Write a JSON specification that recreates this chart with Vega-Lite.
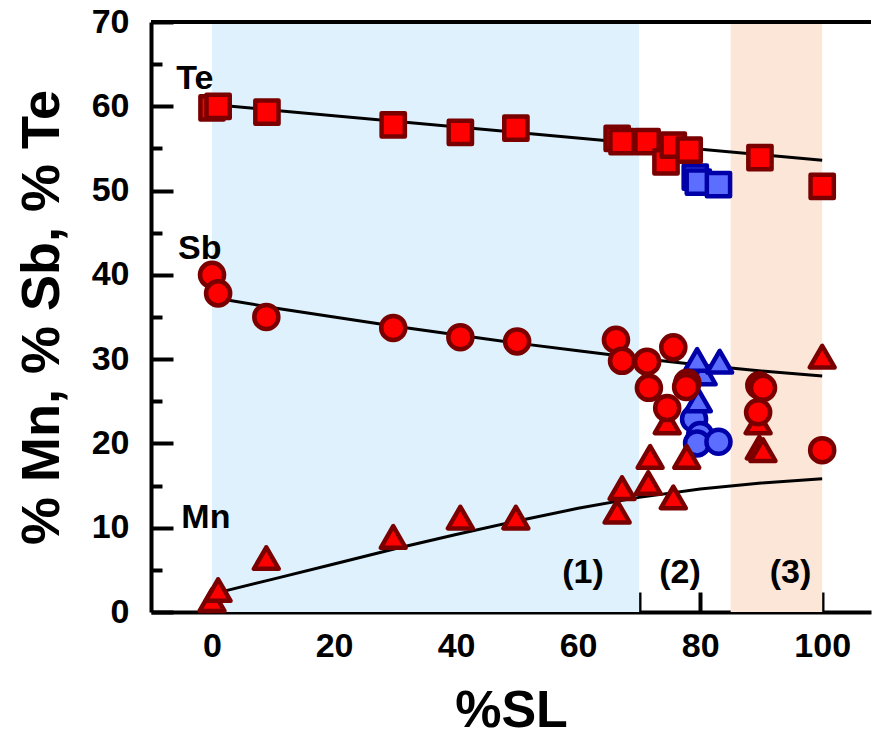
{
  "$schema": "https://vega.github.io/schema/vega-lite/v6.json",
  "width": 720,
  "height": 590,
  "padding": {"left": 15, "top": 5, "right": 0, "bottom": 0},
  "background": "white",
  "config": {"view": {"stroke": null}, "font": "Liberation Sans"},
  "datasets": {
    "bands": [
      {"x0": 0, "x1": 70, "zone": "blue"},
      {"x0": 85, "x1": 100, "zone": "orange"}
    ],
    "fits": [
      {"series": "Te", "x": 0, "y": 60.2}, {"series": "Te", "x": 50, "y": 56.9}, {"series": "Te", "x": 100, "y": 53.6},
      {"series": "Sb", "x": 1, "y": 37.2}, {"series": "Sb", "x": 10, "y": 36.1}, {"series": "Sb", "x": 20, "y": 35.0}, {"series": "Sb", "x": 30, "y": 33.9}, {"series": "Sb", "x": 40, "y": 32.9}, {"series": "Sb", "x": 50, "y": 31.9}, {"series": "Sb", "x": 60, "y": 31.0}, {"series": "Sb", "x": 70, "y": 30.1}, {"series": "Sb", "x": 80, "y": 29.3}, {"series": "Sb", "x": 90, "y": 28.6}, {"series": "Sb", "x": 100, "y": 28.0},
      {"series": "Mn", "x": 1, "y": 2.3}, {"series": "Mn", "x": 10, "y": 3.9}, {"series": "Mn", "x": 20, "y": 5.7}, {"series": "Mn", "x": 30, "y": 7.5}, {"series": "Mn", "x": 40, "y": 9.2}, {"series": "Mn", "x": 50, "y": 10.8}, {"series": "Mn", "x": 60, "y": 12.3}, {"series": "Mn", "x": 70, "y": 13.6}, {"series": "Mn", "x": 80, "y": 14.6}, {"series": "Mn", "x": 90, "y": 15.3}, {"series": "Mn", "x": 100, "y": 15.8}
    ],
    "points": [
      {"grp": "blue", "el": "Te", "x": 79.2, "y": 51.6}, {"grp": "blue", "el": "Te", "x": 79.7, "y": 51.0}, {"grp": "blue", "el": "Te", "x": 83, "y": 50.7},
      {"grp": "blue", "el": "Sb", "x": 79, "y": 22.9}, {"grp": "blue", "el": "Sb", "x": 80, "y": 21}, {"grp": "blue", "el": "Sb", "x": 79.5, "y": 20}, {"grp": "blue", "el": "Sb", "x": 83, "y": 20.2},
      {"grp": "blue", "el": "Mn", "x": 79.7, "y": 25.1}, {"grp": "blue", "el": "Mn", "x": 80.5, "y": 28.3}, {"grp": "blue", "el": "Mn", "x": 79.5, "y": 29.9}, {"grp": "blue", "el": "Mn", "x": 83.2, "y": 29.7},
      {"grp": "red", "el": "Mn", "x": 0, "y": 1.4}, {"grp": "red", "el": "Mn", "x": 1, "y": 2.6}, {"grp": "red", "el": "Mn", "x": 8.9, "y": 6.4}, {"grp": "red", "el": "Mn", "x": 29.7, "y": 8.9}, {"grp": "red", "el": "Mn", "x": 40.7, "y": 11.2}, {"grp": "red", "el": "Mn", "x": 49.8, "y": 11.2}, {"grp": "red", "el": "Mn", "x": 66.4, "y": 11.9}, {"grp": "red", "el": "Mn", "x": 67.2, "y": 14.7}, {"grp": "red", "el": "Mn", "x": 71.5, "y": 15.3}, {"grp": "red", "el": "Mn", "x": 71.8, "y": 18.4}, {"grp": "red", "el": "Mn", "x": 77.8, "y": 18.4}, {"grp": "red", "el": "Mn", "x": 75.6, "y": 13.6}, {"grp": "red", "el": "Mn", "x": 74.6, "y": 22.5}, {"grp": "red", "el": "Mn", "x": 89.5, "y": 22.5}, {"grp": "red", "el": "Mn", "x": 89.7, "y": 19.5}, {"grp": "red", "el": "Mn", "x": 90.3, "y": 19.2}, {"grp": "red", "el": "Mn", "x": 100, "y": 30.3},
      {"grp": "red", "el": "Sb", "x": 0, "y": 40}, {"grp": "red", "el": "Sb", "x": 1, "y": 37.8}, {"grp": "red", "el": "Sb", "x": 8.9, "y": 35.0}, {"grp": "red", "el": "Sb", "x": 29.7, "y": 33.7}, {"grp": "red", "el": "Sb", "x": 40.7, "y": 32.6}, {"grp": "red", "el": "Sb", "x": 50, "y": 32.1}, {"grp": "red", "el": "Sb", "x": 66.2, "y": 32.3}, {"grp": "red", "el": "Sb", "x": 67.2, "y": 29.8}, {"grp": "red", "el": "Sb", "x": 71.3, "y": 29.7}, {"grp": "red", "el": "Sb", "x": 75.6, "y": 31.4}, {"grp": "red", "el": "Sb", "x": 71.6, "y": 26.6}, {"grp": "red", "el": "Sb", "x": 77.9, "y": 27.2}, {"grp": "red", "el": "Sb", "x": 77.7, "y": 26.7}, {"grp": "red", "el": "Sb", "x": 74.6, "y": 24.2}, {"grp": "red", "el": "Sb", "x": 89.7, "y": 26.9}, {"grp": "red", "el": "Sb", "x": 90.3, "y": 26.6}, {"grp": "red", "el": "Sb", "x": 89.5, "y": 23.7}, {"grp": "red", "el": "Sb", "x": 100, "y": 19.2},
      {"grp": "red", "el": "Te", "x": 0, "y": 59.8}, {"grp": "red", "el": "Te", "x": 1, "y": 60.0}, {"grp": "red", "el": "Te", "x": 9, "y": 59.3}, {"grp": "red", "el": "Te", "x": 29.7, "y": 57.8}, {"grp": "red", "el": "Te", "x": 40.7, "y": 56.9}, {"grp": "red", "el": "Te", "x": 49.8, "y": 57.4}, {"grp": "red", "el": "Te", "x": 66.4, "y": 56.2}, {"grp": "red", "el": "Te", "x": 67.2, "y": 55.8}, {"grp": "red", "el": "Te", "x": 71.3, "y": 55.8}, {"grp": "red", "el": "Te", "x": 74.4, "y": 53.4}, {"grp": "red", "el": "Te", "x": 75.6, "y": 55.4}, {"grp": "red", "el": "Te", "x": 78.2, "y": 54.8}, {"grp": "red", "el": "Te", "x": 89.8, "y": 53.9}, {"grp": "red", "el": "Te", "x": 100, "y": 50.5}
    ],
    "labels": [
      {"x": -2.8, "y": 63.2, "t": "Te", "kind": "elem"},
      {"x": -2.0, "y": 43.1, "t": "Sb", "kind": "elem"},
      {"x": -1.0, "y": 11.2, "t": "Mn", "kind": "elem"},
      {"x": 60.8, "y": 4.6, "t": "(1)", "kind": "zone"},
      {"x": 76.7, "y": 4.6, "t": "(2)", "kind": "zone"},
      {"x": 94.8, "y": 4.6, "t": "(3)", "kind": "zone"}
    ]
  },
  "layer": [
    {
      "data": {"name": "bands"},
      "mark": {"type": "rect"},
      "encoding": {
        "x": {"field": "x0", "type": "quantitative", "scale": {"domain": [-10, 108], "nice": false, "zero": false},
          "axis": {
            "values": [0, 10, 20, 30, 40, 50, 60, 70, 80, 90, 100],
            "labelExpr": "datum.value % 20 == 0 ? datum.label : ''",
            "tickSize": -20, "tickWidth": 4, "tickColor": "black",
            "domainWidth": 4, "domainColor": "black",
            "labelFontSize": 34, "labelFontWeight": "bold", "labelColor": "black", "labelPadding": 37,
            "grid": false,
            "title": "%SL", "titleFontSize": 52, "titleFontWeight": "bold", "titleColor": "black", "titlePadding": 22
          }},
        "x2": {"field": "x1"},
        "color": {"field": "zone", "type": "nominal", "scale": {"domain": ["blue", "orange"], "range": ["#dff1fc", "#fbe6d8"]}, "legend": null}
      }
    },
    {
      "data": {"values": [{"top": 70}]},
      "mark": {"type": "rule", "strokeWidth": 4, "color": "black"},
      "encoding": {
        "y": {"field": "top", "type": "quantitative", "scale": {"domain": [0, 70], "nice": false},
          "axis": {
            "values": [0, 5, 10, 15, 20, 25, 30, 35, 40, 45, 50, 55, 60, 65, 70],
            "labelExpr": "datum.value % 10 == 0 ? datum.label : ''",
            "tickSize": {"expr": "datum.value % 10 == 0 ? -22 : -11"},
            "tickWidth": 4, "tickColor": "black",
            "domainWidth": 4, "domainColor": "black",
            "labelFontSize": 34, "labelFontWeight": "bold", "labelColor": "black", "labelPadding": 44,
            "grid": false,
            "title": "% Mn, % Sb, % Te", "titleFontSize": 54, "titleFontWeight": "bold", "titleColor": "black", "titlePadding": 22
          }}
      }
    },
    {
      "data": {"name": "fits"},
      "mark": {"type": "line", "color": "black", "strokeWidth": 3},
      "encoding": {
        "x": {"field": "x", "type": "quantitative"},
        "y": {"field": "y", "type": "quantitative"},
        "detail": {"field": "series"}
      }
    },
    {
      "data": {"name": "points"},
      "mark": {"type": "point", "filled": true, "opacity": 1, "strokeWidth": 4.5, "strokeJoin": "round"},
      "encoding": {
        "x": {"field": "x", "type": "quantitative"},
        "y": {"field": "y", "type": "quantitative"},
        "shape": {"field": "el", "type": "nominal", "scale": {"domain": ["Te", "Sb", "Mn"], "range": ["square", "circle", "triangle-up"]}, "legend": null},
        "size": {"field": "el", "type": "nominal", "scale": {"domain": ["Te", "Sb", "Mn"], "range": [540, 620, 980]}, "legend": null},
        "fill": {"field": "grp", "type": "nominal", "scale": {"domain": ["red", "blue"], "range": ["#ff0000", "#5c6eff"]}, "legend": null},
        "stroke": {"field": "grp", "type": "nominal", "scale": {"domain": ["red", "blue"], "range": ["#7a0000", "#0000a8"]}, "legend": null}
      }
    },
    {
      "data": {"name": "labels"},
      "transform": [{"filter": "datum.kind == 'elem'"}],
      "mark": {"type": "text", "fontSize": 34, "fontWeight": "bold", "color": "black", "align": "center", "baseline": "middle"},
      "encoding": {
        "x": {"field": "x", "type": "quantitative"},
        "y": {"field": "y", "type": "quantitative"},
        "text": {"field": "t"}
      }
    },
    {
      "data": {"name": "labels"},
      "transform": [{"filter": "datum.kind == 'zone'"}],
      "mark": {"type": "text", "fontSize": 34, "fontWeight": "bold", "color": "black", "align": "center", "baseline": "middle"},
      "encoding": {
        "x": {"field": "x", "type": "quantitative"},
        "y": {"field": "y", "type": "quantitative"},
        "text": {"field": "t"}
      }
    }
  ]
}
